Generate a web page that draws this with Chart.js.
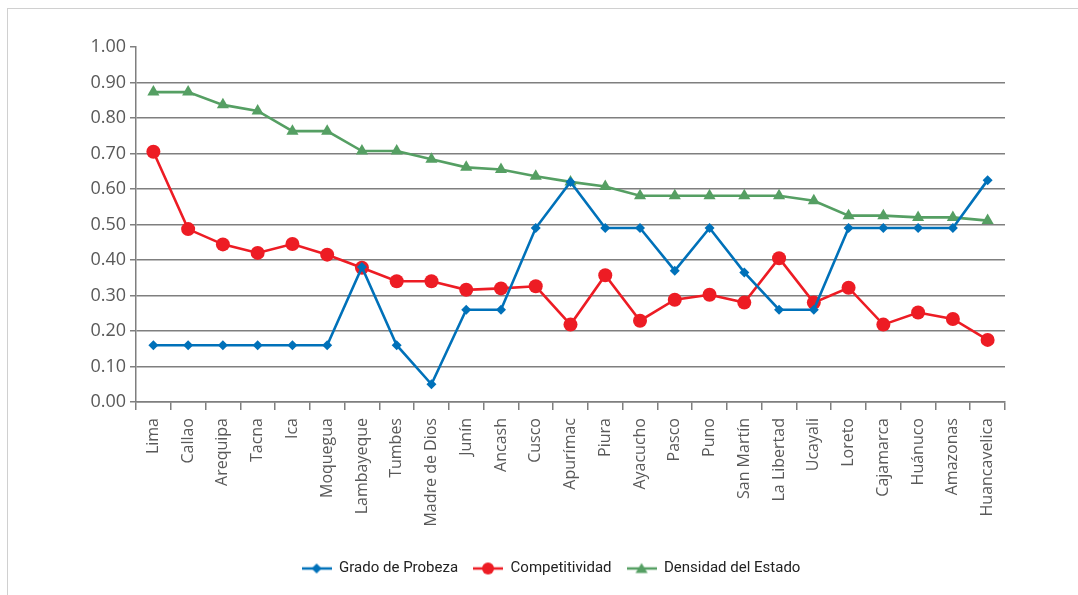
<!DOCTYPE html>
<html>
<head>
<meta charset="utf-8">
<script src="https://cdn.jsdelivr.net/npm/chart.js@4/dist/chart.umd.min.js"></script>
<style>
html,body{margin:0;padding:0;background:#fff;}
#wrap{position:absolute;left:0;top:0;width:1078px;height:595px;}
#frame{position:absolute;left:7px;top:8px;width:1100px;height:700px;border-left:1px solid #d0d0d0;border-top:1px solid #d0d0d0;pointer-events:none;}
</style>
</head>
<body>
<div id="wrap"><canvas id="c" width="1078" height="595"></canvas></div>
<div id="frame"></div>
<script>
const categories = ["Lima","Callao","Arequipa","Tacna","Ica","Moquegua","Lambayeque","Tumbes","Madre de Dios","Junín","Ancash","Cusco","Apurímac","Piura","Ayacucho","Pasco","Puno","San Martín","La Libertad","Ucayali","Loreto","Cajamarca","Huánuco","Amazonas","Huancavelica"];
const gradoPobreza = [0.16,0.16,0.16,0.16,0.16,0.16,0.38,0.16,0.05,0.26,0.26,0.49,0.62,0.49,0.49,0.37,0.49,0.365,0.26,0.26,0.49,0.49,0.49,0.49,0.625];
const competitividad = [0.705,0.487,0.444,0.42,0.445,0.415,0.378,0.34,0.34,0.316,0.32,0.326,0.218,0.357,0.229,0.288,0.302,0.28,0.405,0.28,0.322,0.218,0.252,0.234,0.175];
const densidad = [0.873,0.873,0.837,0.82,0.763,0.763,0.707,0.707,0.684,0.661,0.655,0.636,0.62,0.607,0.581,0.581,0.581,0.581,0.581,0.567,0.525,0.525,0.52,0.52,0.511];
const seriesNames = ["Grado de Probeza","Competitividad","Densidad del Estado"];
const yTicks = [0,0.1,0.2,0.3,0.4,0.5,0.6,0.7,0.8,0.9,1.0];

const BLUE = "#0071b9", RED = "#ed1c24", GREEN = "#559f63";
const FONT = "'Open Sans', 'DejaVu Sans', sans-serif";
const LEGFONT = "Roboto, 'Open Sans', sans-serif";

function legendIcon(color, style){
  const cv = document.createElement('canvas');
  cv.width = 30; cv.height = 14;
  const g = cv.getContext('2d');
  g.strokeStyle = color; g.lineWidth = 2.5;
  g.beginPath(); g.moveTo(0,7); g.lineTo(30,7); g.stroke();
  g.fillStyle = color;
  g.beginPath();
  if(style==='circle'){ g.arc(15,7,6,0,Math.PI*2); }
  else if(style==='rectRot'){ g.moveTo(15,2); g.lineTo(20,7); g.lineTo(15,12); g.lineTo(10,7); g.closePath(); }
  else { g.moveTo(15,1.5); g.lineTo(21,11.5); g.lineTo(9,11.5); g.closePath(); }
  g.fill();
  return cv;
}

const ds = [
  {label:seriesNames[0], data:gradoPobreza, color:BLUE, pointStyle:'rectRot', pointRadius:5, icon:legendIcon(BLUE,'rectRot')},
  {label:seriesNames[1], data:competitividad, color:RED, pointStyle:'circle', pointRadius:7, icon:legendIcon(RED,'circle')},
  {label:seriesNames[2], data:densidad, color:GREEN, pointStyle:'triangle', pointRadius:7, icon:legendIcon(GREEN,'triangle')}
];

const shiftLegend = {
  id:'shiftLegend',
  afterLayout(chart){
    if(chart.legend){ chart.legend.left = 97; chart.legend.right = 1005; }
  }
};

new Chart(document.getElementById('c'), {
  type:'line',
  plugins:[shiftLegend],
  data:{
    labels:categories,
    datasets: ds.map(d=>({label:d.label,data:d.data,borderColor:d.color,backgroundColor:d.color,pointStyle:d.pointStyle,pointRadius:d.pointRadius,pointHoverRadius:d.pointRadius,pointBorderWidth:0,borderWidth:2.6,tension:0,fill:false}))
  },
  options:{
    responsive:false,
    animation:false,
    layout:{padding:{top:47,right:73,bottom:9,left:0}},
    plugins:{
      tooltip:{enabled:false},
      legend:{
        position:'bottom',
        labels:{
          usePointStyle:true,
          pointStyleWidth:30,
          color:'#222',
          font:{family:LEGFONT,size:15},
          padding:15,
          generateLabels:(chart)=>ds.map((d,i)=>({text:d.label,fillStyle:d.color,strokeStyle:d.color,pointStyle:d.icon,lineWidth:0,hidden:false,datasetIndex:i,fontColor:'#222'}))
        }
      }
    },
    scales:{
      x:{
        offset:true,
        grid:{display:true,drawOnChartArea:false,offset:true,color:'#7f7f7f',lineWidth:1.5,tickLength:8},
        border:{color:'#7f7f7f',width:1.5},
        ticks:{color:'#595959',font:{family:FONT,size:16},maxRotation:90,minRotation:90,autoSkip:false,padding:8},
        afterFit:(s)=>{s.height=144;}
      },
      y:{
        min:0,max:1,
        afterBuildTicks:(s)=>{s.ticks = yTicks.map(v=>({value:v}));},
        grid:{color:(ctx)=> (ctx.tick && ctx.tick.value===1) ? 'rgba(0,0,0,0)' : '#7f7f7f', lineWidth:1.5, tickLength:6, drawTicks:true, tickColor:'#7f7f7f'},
        border:{color:'#7f7f7f',width:1.5},
        ticks:{color:'#595959',font:{family:FONT,size:18},padding:4,callback:(v)=>Number(v).toFixed(2)},
        afterFit:(s)=>{s.width=136;}
      }
    }
  }
});
</script>
</body>
</html>
